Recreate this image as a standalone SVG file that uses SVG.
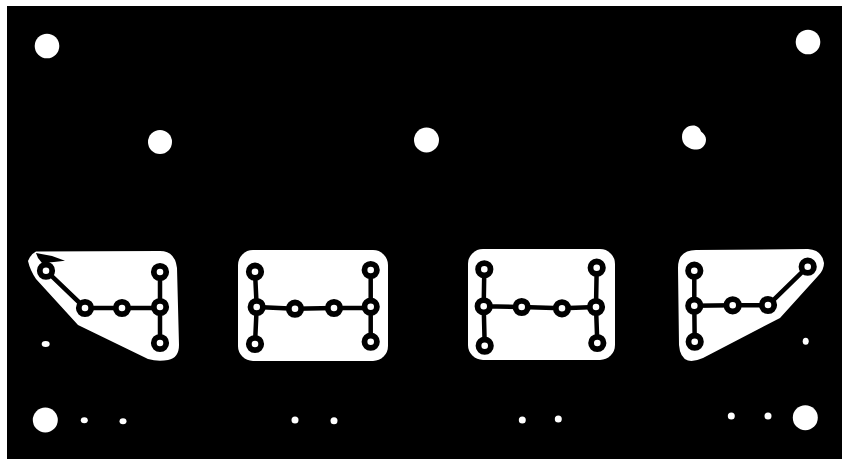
<svg xmlns="http://www.w3.org/2000/svg" width="842" height="459" viewBox="0 0 842 459">
<style>
.w{fill:#fff}
.t{fill:none;stroke:#000;stroke-width:4.5;stroke-linecap:round;stroke-linejoin:round}
.r{fill:#fff;stroke:#000;stroke-width:5.800}
</style>
<defs><circle id="p" class="r" r="6.200"/></defs>
<rect width="842" height="459" fill="#fff"/>
<rect x="7" y="6" width="835" height="453" fill="#000"/>
<g id="holes" class="w">
<circle cx="47" cy="46" r="12.300"/>
<circle cx="808" cy="42" r="12.300"/>
<circle cx="160" cy="142" r="12"/>
<circle cx="426.500" cy="140" r="12.500"/>
<path d="M693 125.500C697 125.500 700 128 701 131.500C704 134 706 136 706 139.500C706 145 702 149.500 697 149.500C693 149.500 690 149 686 146C683 143.500 682 140 682 137C682 130 687 125.500 693 125.500Z"/>
<circle cx="45.300" cy="420" r="12.500"/>
<circle cx="805.300" cy="417.700" r="12.500"/>
<ellipse cx="45.700" cy="344" rx="4" ry="3"/>
<ellipse cx="84.300" cy="420.300" rx="3.500" ry="3"/>
<ellipse cx="123" cy="421.300" rx="3.500" ry="3"/>
<circle cx="295" cy="420" r="3.500"/>
<circle cx="334" cy="420.700" r="3.500"/>
<circle cx="522.300" cy="420" r="3.500"/>
<circle cx="558.300" cy="419" r="3.500"/>
<ellipse cx="805.700" cy="341.300" rx="3" ry="3.500"/>
<circle cx="731.300" cy="416" r="3.500"/>
<circle cx="768" cy="416" r="3.500"/>
</g>
<g id="panels" class="w">
<path id="panel-1" d="M36 251.500L160 251Q175 251 177 268L179 345Q179 358 168 360Q158 362 148 359L78 325L36 279Q30 270 28 261Q30 255 36 251.500Z"/>
<rect id="panel-2" x="238" y="250" width="150" height="111" rx="15"/>
<rect id="panel-3" x="468" y="249" width="147" height="111" rx="15"/>
<path id="panel-4" d="M678 268Q678 250 696 250L808 249Q822 250 824 263Q824 270 818 276L780 318L703 358Q694 362 688 360.500Q680 358 679 345Z"/>
</g>
<path id="nick" d="M36 253L52 256L65 260.700L54 262L42 263L38 258Z" fill="#000"/>
<g id="connectors" class="t">
<path d="M46 270.700L85 308H160M160 272V343"/>
<path d="M255 271.700L256.700 307L255 344M256.700 307L295 308.700L334 308H370.700M370.700 270V341.700"/>
<path d="M484.300 269.300L483.700 306.300L484.700 345.700M483.700 306.300L521.700 307L562 308.300L596 307M596.700 267.700L596 307L597.300 343"/>
<path d="M694.300 270.700V305.700L694.700 341.700M694.300 305.700L732.700 305.300H768L807.700 266.700"/>
</g>
<g id="pads">
<use href="#p" x="46" y="270.700"/><use href="#p" x="85" y="308"/><use href="#p" x="122" y="308"/><use href="#p" x="160" y="307"/><use href="#p" x="160" y="272"/><use href="#p" x="160" y="343"/>
<use href="#p" x="255" y="271.700"/><use href="#p" x="256.700" y="307"/><use href="#p" x="255" y="344"/><use href="#p" x="295" y="308.700"/><use href="#p" x="334" y="308"/><use href="#p" x="370.700" y="270"/><use href="#p" x="370.700" y="306.700"/><use href="#p" x="370.700" y="341.700"/>
<use href="#p" x="484.300" y="269.300"/><use href="#p" x="483.700" y="306.300"/><use href="#p" x="484.700" y="345.700"/><use href="#p" x="521.700" y="307"/><use href="#p" x="562" y="308.300"/><use href="#p" x="596.700" y="267.700"/><use href="#p" x="596" y="307"/><use href="#p" x="597.300" y="343"/>
<use href="#p" x="694.300" y="270.700"/><use href="#p" x="694.300" y="305.700"/><use href="#p" x="694.700" y="341.700"/><use href="#p" x="732.700" y="305.300"/><use href="#p" x="768" y="305"/><use href="#p" x="807.700" y="266.700"/>
</g>
</svg>
